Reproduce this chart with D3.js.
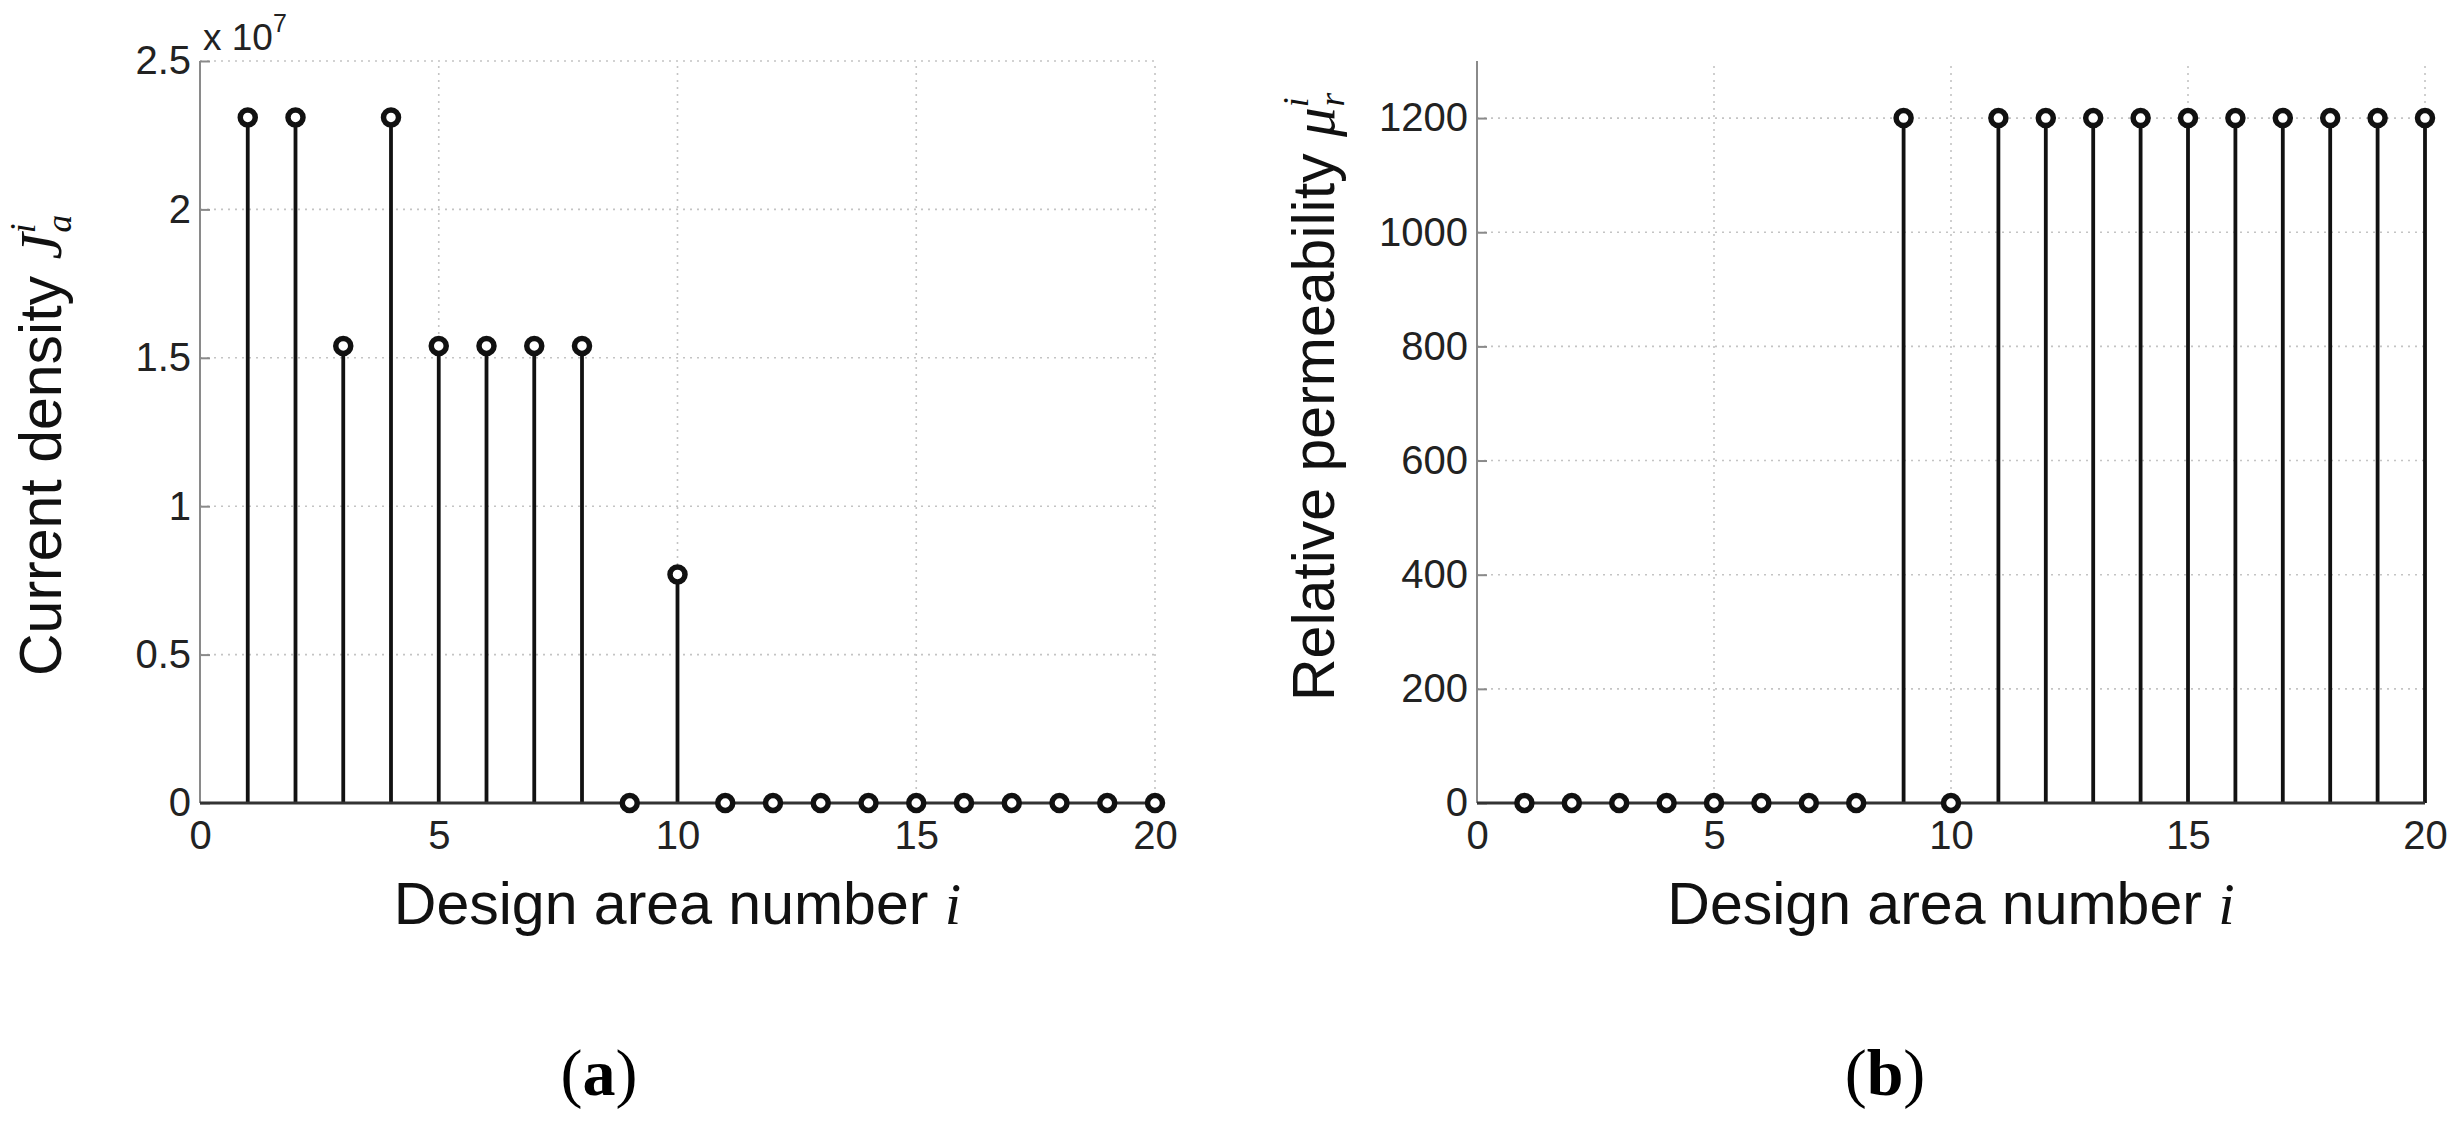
<!DOCTYPE html>
<html>
<head>
<meta charset="utf-8">
<script src="https://cdn.jsdelivr.net/npm/d3@7"></script>
<style>
  html, body { margin: 0; padding: 0; background: #fff; }
  svg { display: block; }
</style>
</head>
<body>
<svg id="chart" width="2453" height="1122"></svg>
<script>
// ---------- data ----------
const designArea = d3.range(1, 21);               // i = 1..20
const currentDensity = [2.31e7, 2.31e7, 1.54e7, 2.31e7, 1.54e7, 1.54e7, 1.54e7, 1.54e7, 0, 0.77e7,
                        0, 0, 0, 0, 0, 0, 0, 0, 0, 0];
const permeability = [0, 0, 0, 0, 0, 0, 0, 0, 1200, 0,
                      1200, 1200, 1200, 1200, 1200, 1200, 1200, 1200, 1200, 1200];
const xTicks = [0, 5, 10, 15, 20];
const yTicksA = [0, 0.5e7, 1e7, 1.5e7, 2e7, 2.5e7];
const yTicksALabels = ["0", "0.5", "1", "1.5", "2", "2.5"];
const yTicksB = [0, 200, 400, 600, 800, 1000, 1200];

const svg = d3.select("#chart");
const FONT = "'Liberation Sans', Arial, Helvetica, sans-serif";
const MATH = "'Liberation Serif', 'DejaVu Serif', serif";
const tickSize = 40, labelSize = 59;

function panel(cfg) {
  const g = svg.append("g");
  const x = d3.scaleLinear().domain([0, 20]).range([cfg.left, cfg.right]);
  const y = d3.scaleLinear().domain(cfg.yDomain).range([cfg.bottom, cfg.top]);

  // grid (dotted)
  const grid = g.append("g").attr("stroke", "#c4c4c4").attr("stroke-width", 1.6)
    .attr("stroke-dasharray", "2,5");
  grid.selectAll("line.gx").data(xTicks.filter(t => t > 0)).join("line")
    .attr("x1", d => x(d)).attr("x2", d => x(d))
    .attr("y1", cfg.bottom).attr("y2", cfg.top);
  grid.selectAll("line.gy").data(cfg.yTicks.filter(t => t > 0)).join("line")
    .attr("y1", d => y(d)).attr("y2", d => y(d))
    .attr("x1", cfg.left).attr("x2", cfg.right);

  // y axis
  const yAxis = d3.axisLeft(y).tickValues(cfg.yTicks).tickSizeInner(-10).tickSizeOuter(0)
    .tickPadding(9).tickFormat((d, i) => cfg.yLabels ? cfg.yLabels[i] : d);
  const ya = g.append("g").attr("transform", `translate(${cfg.left},0)`).call(yAxis);
  ya.select(".domain").attr("stroke", "#8a8a8a").attr("stroke-width", 2)
    .attr("d", `M0,${cfg.bottom}V${cfg.top}`);
  ya.selectAll(".tick line").attr("stroke", "#8a8a8a").attr("stroke-width", 2);
  ya.selectAll(".tick text").attr("font-family", FONT).attr("font-size", tickSize)
    .attr("fill", "#222");

  // x axis
  const xAxis = d3.axisBottom(x).tickValues(xTicks).tickSize(0).tickPadding(18);
  const xa = g.append("g").attr("transform", `translate(0,${cfg.bottom})`).call(xAxis);
  xa.select(".domain").remove();
  xa.selectAll(".tick text").attr("font-family", FONT).attr("font-size", tickSize)
    .attr("fill", "#222").attr("dy", "0.71em");

  const vals = cfg.values;
  // stems
  g.append("g").selectAll("line").data(designArea).join("line")
    .attr("x1", d => x(d)).attr("x2", d => x(d))
    .attr("y1", y(0)).attr("y2", (d, i) => y(vals[i]))
    .attr("stroke", "#111").attr("stroke-width", 3.8);
  // baseline
  g.append("line").attr("x1", x(0)).attr("x2", x(20)).attr("y1", y(0)).attr("y2", y(0))
    .attr("stroke", "#333").attr("stroke-width", 3);
  // markers
  g.append("g").selectAll("circle").data(designArea).join("circle")
    .attr("cx", d => x(d)).attr("cy", (d, i) => y(vals[i])).attr("r", 7.5)
    .attr("fill", "#fff").attr("stroke", "#111").attr("stroke-width", 5.5);

  // x label
  const xl = g.append("text").attr("x", (cfg.left + cfg.right) / 2).attr("y", cfg.bottom + 121)
    .attr("text-anchor", "middle").attr("font-family", FONT).attr("font-size", labelSize)
    .attr("fill", "#111");
  xl.append("tspan").text("Design area number ");
  xl.append("tspan").attr("font-family", MATH).attr("font-style", "italic").text("i");

  // y label
  const yl = g.append("text")
    .attr("transform", `translate(${cfg.ylabelX},${cfg.ylabelY}) rotate(-90)`)
    .attr("text-anchor", "start").attr("font-family", FONT).attr("font-size", labelSize)
    .attr("fill", "#111");
  yl.append("tspan").text(cfg.ylabel + " ");
  yl.append("tspan").attr("font-family", MATH).attr("font-style", "italic").text(cfg.sym);
  yl.append("tspan").attr("font-family", MATH).attr("font-style", "italic")
    .attr("font-size", labelSize * 0.6).attr("dy", -26).text("i");
  yl.append("tspan").attr("font-family", MATH).attr("font-style", "italic")
    .attr("font-size", labelSize * 0.6).attr("dx", -9).attr("dy", 36).text(cfg.sub);

  // caption
  const cap = svg.append("text").attr("x", cfg.capX).attr("y", 1095)
    .attr("text-anchor", "middle").attr("font-family", MATH).attr("font-size", 66).attr("fill", "#000");
  cap.append("tspan").text("(");
  cap.append("tspan").attr("font-weight", "bold").text(cfg.caption);
  cap.append("tspan").text(")");
  return { x, y };
}

const A = panel({
  left: 200, right: 1155, top: 61, bottom: 803, yDomain: [0, 2.5e7],
  yTicks: yTicksA, yLabels: yTicksALabels, values: currentDensity,
  ylabel: "Current density", sym: "J", sub: "a", ylabelX: 61, ylabelY: 676,
  caption: "a", capX: 599
});
// exponent label
const ex = svg.append("text").attr("x", A.x(0) + 3).attr("y", A.y(2.5e7) - 11)
  .attr("font-family", FONT).attr("font-size", 37).attr("fill", "#222");
ex.append("tspan").text("x 10");
ex.append("tspan").attr("font-size", 25).attr("dy", -18).text("7");

panel({
  left: 1477, right: 2425, top: 61, bottom: 803, yDomain: [0, 1300],
  yTicks: yTicksB, values: permeability,
  ylabel: "Relative permeability", sym: "μ", sub: "r", ylabelX: 1334, ylabelY: 701,
  caption: "b", capX: 1885
});
</script>
</body>
</html>
